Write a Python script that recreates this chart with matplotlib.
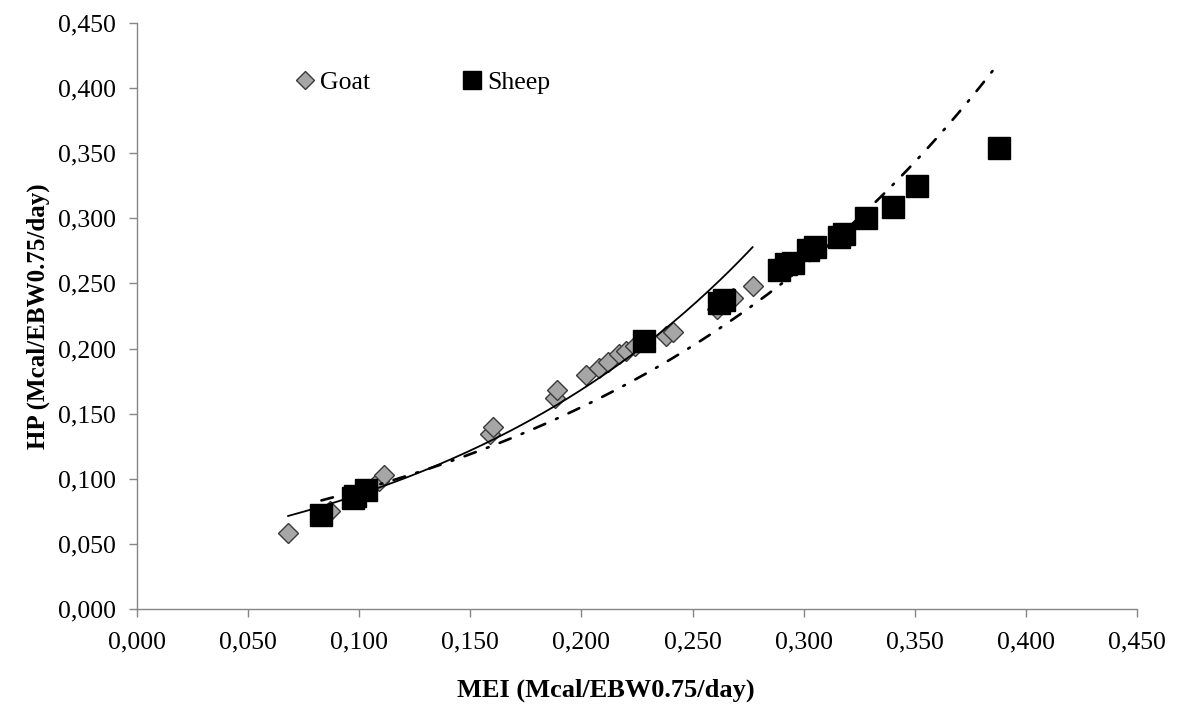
import numpy as np
import matplotlib
matplotlib.use("Agg")
import matplotlib.pyplot as plt
from matplotlib.ticker import FuncFormatter, MultipleLocator

# Goat observations (MEI, HP)
goat_mei = [0.068, 0.087, 0.109, 0.111, 0.159, 0.160, 0.188, 0.189,
            0.202, 0.208, 0.212, 0.217, 0.220, 0.224, 0.228, 0.238,
            0.241, 0.261, 0.266, 0.268, 0.277]
goat_hp = [0.058, 0.075, 0.098, 0.103, 0.134, 0.140, 0.162, 0.168,
           0.180, 0.185, 0.190, 0.196, 0.198, 0.202, 0.206, 0.210,
           0.213, 0.230, 0.236, 0.239, 0.248]

# Sheep observations (MEI, HP)
sheep_mei = [0.083, 0.097, 0.098, 0.103, 0.228, 0.262, 0.264, 0.289,
             0.292, 0.295, 0.302, 0.305, 0.316, 0.318, 0.328, 0.340,
             0.351, 0.388]
sheep_hp = [0.072, 0.085, 0.087, 0.091, 0.206, 0.235, 0.237, 0.260,
            0.265, 0.266, 0.276, 0.278, 0.286, 0.288, 0.300, 0.309,
            0.325, 0.354]

# exponential trend lines HP = a*exp(b*MEI)
goat_a, goat_b = 0.0459, 6.50
sheep_a, sheep_b = 0.0537, 5.30

plt.rcParams['font.family'] = ['Liberation Serif', 'DejaVu Serif']

fig = plt.figure(figsize=(11.79, 7.11), dpi=100)
ax = fig.add_axes([0.1162, 0.1435, 0.8482, 0.8242])

ax.plot(goat_mei, goat_hp, linestyle='none', marker='D', markersize=10.5,
        markerfacecolor='#a6a6a6', markeredgecolor='#3a3a3a',
        markeredgewidth=1.0, label='Goat', zorder=2)
ax.plot(sheep_mei, sheep_hp, linestyle='none', marker='s', markersize=15.5,
        markerfacecolor='black', markeredgecolor='black',
        label='Sheep', zorder=3)

xg = np.linspace(min(goat_mei), max(goat_mei), 200)
ax.plot(xg, goat_a * np.exp(goat_b * xg), color='black', linewidth=1.3, zorder=4)
xs = np.linspace(min(sheep_mei), max(sheep_mei), 200)
ax.plot(xs, sheep_a * np.exp(sheep_b * xs), color='black', linewidth=1.9,
        linestyle=(0, (4.5, 4.5, 0.7, 4.5)), dash_capstyle='round', zorder=4)

ax.set_xlim(0, 0.45)
ax.set_ylim(0, 0.45)
ax.xaxis.set_major_locator(MultipleLocator(0.05))
ax.yaxis.set_major_locator(MultipleLocator(0.05))
fmt = FuncFormatter(lambda v, p: f"{v:.3f}".replace('.', ','))
ax.xaxis.set_major_formatter(fmt)
ax.yaxis.set_major_formatter(fmt)

for s in ['top', 'right']:
    ax.spines[s].set_visible(False)
for s in ['left', 'bottom']:
    ax.spines[s].set_color('#868686')
    ax.spines[s].set_linewidth(1.0)
ax.tick_params(direction='out', length=6, width=1, color='#868686',
               labelsize=18.5, labelcolor='black')
ax.tick_params(axis='x', pad=10)
ax.tick_params(axis='y', pad=9)

ax.set_xlabel('MEI (Mcal/EBW0.75/day)', fontsize=19, fontweight='bold')
ax.xaxis.set_label_coords(0.469, -0.1195)
ax.set_ylabel('HP (Mcal/EBW0.75/day)', fontsize=18, fontweight='bold', labelpad=6)

leg = ax.legend(loc='center left', bbox_to_anchor=(0.156, 0.898), ncol=2, frameon=False,
                fontsize=18.5, handlelength=0.9, handletextpad=0.15, columnspacing=3.5,
                borderaxespad=0, borderpad=0)
leg.legend_handles[0].set_markersize(9.5)
leg.legend_handles[1].set_markersize(13)

fig.savefig('out.png', dpi=100)
